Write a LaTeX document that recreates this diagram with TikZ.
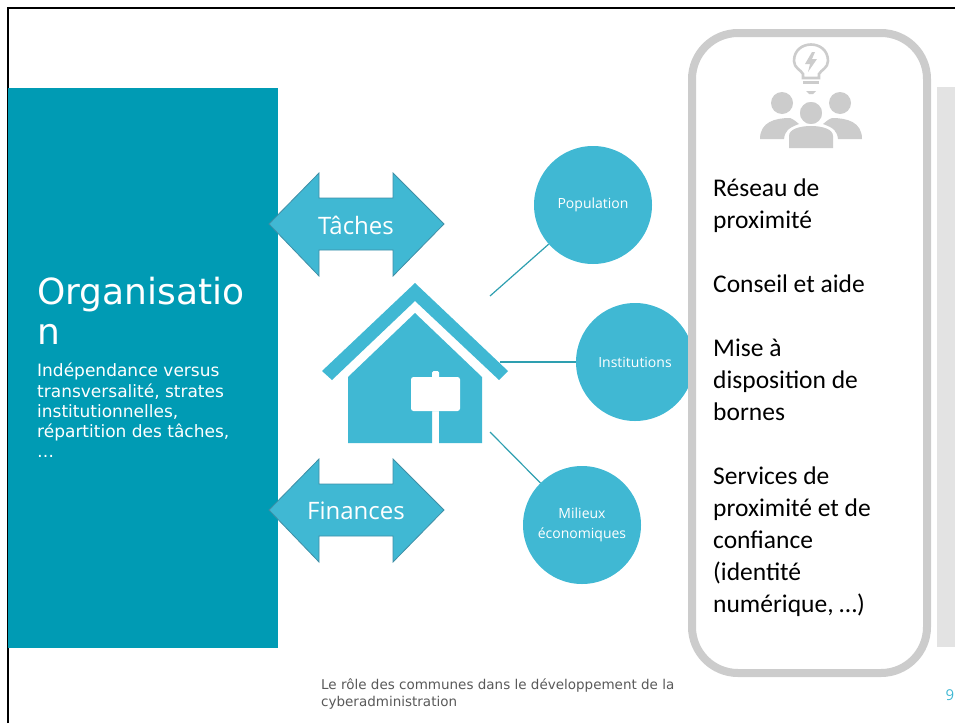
\documentclass[tikz,border=0pt]{standalone}
\usepackage{fontspec}
\setmainfont{DejaVu Sans}
\newfontfamily\opensans{Open Sans}
\newfontfamily\rightfont{Carlito}
\usetikzlibrary{positioning}
\definecolor{tealbar}{HTML}{009BB4}
\definecolor{lightblue}{HTML}{40B8D3}
\definecolor{arrowedge}{HTML}{3F8FA6}
\definecolor{linkteal}{HTML}{2E9FB0}
\definecolor{framegray}{HTML}{CCCCCC}
\definecolor{panelgray}{HTML}{E3E3E3}
\tikzset{
  disc/.style={circle,fill=lightblue,minimum size=118pt,inner sep=0pt,align=center,text=white,font=\opensans\fontsize{14}{20}\selectfont},
  dblarrow/.style={fill=lightblue,draw=arrowedge,line width=0.8pt},
  arrowlabel/.style={text=white,font=\opensans\fontsize{24}{28}\selectfont},
  link/.style={linkteal,line width=1.2pt},
  icon/.style={fill=framegray,draw=none}
}
\begin{document}
\begin{tikzpicture}[x=1pt,y=-1pt]
\useasboundingbox (0,0) rectangle (955,723);
% frame
\draw[black,line width=2.4pt] (8,723) -- (8,8) -- (955,8);
% left bar
\fill[tealbar] (8,88) rectangle (278,648);
\node[anchor=base west,inner sep=0pt,text=white,font=\fontsize{36}{40}\selectfont] (TitleA) at (37,304) {Organisatio};
\node[anchor=base west,inner sep=0pt,text=white,font=\fontsize{36}{40}\selectfont] (TitleB) at (37,344) {n};
\node[anchor=north west,inner sep=0pt,align=left,text=white,font=\fontsize{17}{20.2}\selectfont] (Sub) at (37,363) {Indépendance versus\\transversalité, strates\\institutionnelles,\\répartition des tâches,\\…};
% arrows
\foreach \y/\t in {224/Tâches,510/Finances}{
  \draw[dblarrow] (269,\y) -- (319,\y-51) -- (319,\y-26) -- (393,\y-26) -- (393,\y-51) -- (444,\y) -- (393,\y+52) -- (393,\y+26) -- (319,\y+26) -- (319,\y+52) -- cycle;
  \node[arrowlabel] (Label\t) at (356,\y+1) {\t};
}
% house
\fill[lightblue] (415,283) -- (508,371) -- (499,380) -- (415,301) -- (332,380) -- (322,371) -- cycle;
\fill[lightblue] (415,313) -- (482,377) -- (482,443) -- (439,443) -- (439,411) -- (432,411) -- (432,443) -- (348,443) -- (348,377) -- cycle;
\fill[white,rounded corners=2.5pt] (411,377) rectangle (460,411);
\fill[white,rounded corners=1.5pt] (432,371) rectangle (439,380);
\coordinate (HouseA) at (490,296);
\coordinate (HouseB) at (500,362);
\coordinate (HouseC) at (490,432);
% circles
\node[disc] (Population) at (593,205) {Population};
\node[disc] (Institutions) at (635,362) {Institutions};
\node[disc] (Milieux) at (582,525) {Milieux\\économiques};
\draw[link] (HouseA) -- (Population);
\draw[link] (HouseB) -- (Institutions);
\draw[link] (HouseC) -- (Milieux);
% right box
\fill[panelgray] (937,87) rectangle (955,647);
\draw[framegray,line width=8pt,fill=white,rounded corners=46pt] (692,33) rectangle (927,673);
% bulb
\draw[framegray,line width=2.6pt] (803,78) -- (803,74) .. controls (801,70) and (794,68) .. (794,61) .. controls (794,39) and (828,39) .. (828,61) .. controls (828,68) and (821,70) .. (819,74) -- (819,78) -- cycle;
\fill[framegray] (812,52) -- (805,64) -- (810,64) -- (808,72) -- (817,59) -- (812,59) -- (815,52) -- cycle;
\fill[icon] (803,81) rectangle (819,84);
\fill[icon] (806,91) -- (816,91) -- (813,94) -- (809,94) -- cycle;
% people
\fill[icon] (782,103) circle (11);
\fill[icon] (840,103) circle (11);
\fill[icon] (760,139) .. controls (760,122) and (775,118) .. (790,118) .. controls (795,120) and (796,122) .. (799,124) .. controls (788,128) and (785,131) .. (784,139) -- cycle;
\fill[icon] (862,139) .. controls (862,122) and (847,118) .. (832,118) .. controls (827,120) and (826,122) .. (823,124) .. controls (834,128) and (837,131) .. (838,139) -- cycle;
\draw[white,line width=1.5pt,fill=framegray] (811,113) circle (12);
\fill[icon] (789,148) -- (789,136) .. controls (789,129) and (800,126) .. (811,126) .. controls (822,126) and (833,129) .. (833,136) -- (833,148) -- cycle;
% right text
\node[anchor=north west,inner sep=0pt,align=left,font=\rightfont\fontsize{25.5}{32}\selectfont] (Services) at (713,179) {Réseau de\\proximité\\[32pt]Conseil et aide\\[32pt]Mise à\\disposition de\\bornes\\[32pt]Services de\\proximité et de\\confiance\\(identité\\numérique, …)};
% footer
\node[anchor=north west,inner sep=0pt,align=left,text=black!65,font=\fontsize{13.5}{17}\selectfont] (Footer) at (321,678) {Le rôle des communes dans le développement de la\\cyberadministration};
\node[anchor=base,inner sep=0pt,text=lightblue,font=\opensans\fontsize{15}{17}\selectfont] (PageNo) at (950,700) {9};
\end{tikzpicture}
\end{document}
